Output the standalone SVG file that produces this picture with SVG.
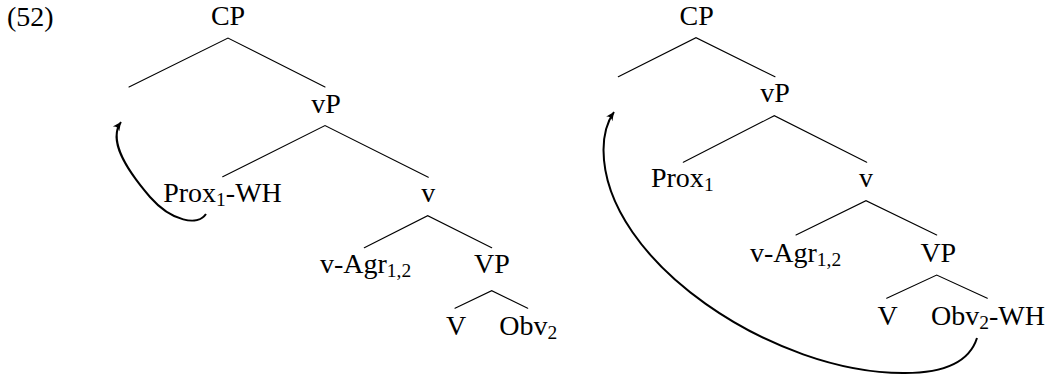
<svg xmlns="http://www.w3.org/2000/svg" width="1047" height="377" viewBox="0 0 1047 377">
  <style>
    text { font-family: "Liberation Serif", "Times New Roman", serif; font-size: 28px; fill: #000; text-anchor: middle; }
    .sub { font-size: 19.5px; }
    .branch { stroke: #000; stroke-width: 1.1; fill: none; stroke-linecap: round; }
    .move { stroke: #000; stroke-width: 2; fill: none; }
  </style>
  <defs>
    <marker id="tip" viewBox="-9 -5 10 10" refX="0" refY="0" markerWidth="10" markerHeight="10" markerUnits="userSpaceOnUse" orient="auto">
      <path d="M0,0 L-8.5,-4 Q-5,0 -8.5,4 Z" fill="#000"/>
    </marker>
  </defs>
  <rect width="1047" height="377" fill="#fff"/>

  <text id="exnum" x="7" y="26" style="text-anchor:start">(52)</text>

  <!-- tree branches -->
  <g id="connectors">
    <!-- left tree -->
    <path class="branch" d="M129,87 L228,38 L325,87"/>
    <path class="branch" d="M222.7,176.7 L325,125.5 L428.3,177.3"/>
    <path class="branch" d="M364.3,247.7 L427.7,215.7 L491.7,247.7"/>
    <path class="branch" d="M455,308.3 L491.7,290.7 L527.7,308.3"/>
    <!-- right tree -->
    <path class="branch" d="M618.3,76.7 L696,37.7 L775,76.7"/>
    <path class="branch" d="M683.3,162.3 L774.3,115.7 L866.7,162.3"/>
    <path class="branch" d="M796,235 L866,200.7 L936.7,235"/>
    <path class="branch" d="M886.7,298.3 L936.7,275 L987.3,298.3"/>
    <!-- movement arrows -->
    <path class="move" marker-end="url(#tip)" d="M206,214 C198,226 172,222 150,197 C125,168 108,140 121,122"/>
    <path class="move" marker-end="url(#tip)" d="M977,338 C970,360 948,373 905,373 C775,374 604,262 603.5,150 C603.5,136 607,122 614,112"/>
  </g>

  <!-- left tree nodes -->
  <g id="L-CP"><text x="228" y="25">CP</text></g>
  <g id="L-vP"><text x="326" y="112.5">vP</text></g>
  <g id="L-Prox"><text x="222.5" y="201.5">Prox<tspan class="sub" dy="4">1</tspan><tspan dy="-4">-WH</tspan></text></g>
  <g id="L-v"><text x="428.3" y="201.5">v</text></g>
  <g id="L-vAgr"><text x="365.5" y="273">v-Agr<tspan class="sub" dy="4">1,2</tspan></text></g>
  <g id="L-VP"><text x="492" y="273">VP</text></g>
  <g id="L-V"><text x="456" y="335">V</text></g>
  <g id="L-Obv"><text x="528.3" y="335">Obv<tspan class="sub" dy="4">2</tspan></text></g>

  <!-- right tree nodes -->
  <g id="R-CP"><text x="696.7" y="25">CP</text></g>
  <g id="R-vP"><text x="775" y="101.7">vP</text></g>
  <g id="R-Prox"><text x="682.3" y="186.7">Prox<tspan class="sub" dy="4">1</tspan></text></g>
  <g id="R-v"><text x="866" y="186.7">v</text></g>
  <g id="R-vAgr"><text x="795.5" y="262">v-Agr<tspan class="sub" dy="4">1,2</tspan></text></g>
  <g id="R-VP"><text x="938.3" y="262">VP</text></g>
  <g id="R-V"><text x="887.5" y="325">V</text></g>
  <g id="R-Obv"><text x="988" y="325">Obv<tspan class="sub" dy="4">2</tspan><tspan dy="-4">-WH</tspan></text></g>
</svg>
